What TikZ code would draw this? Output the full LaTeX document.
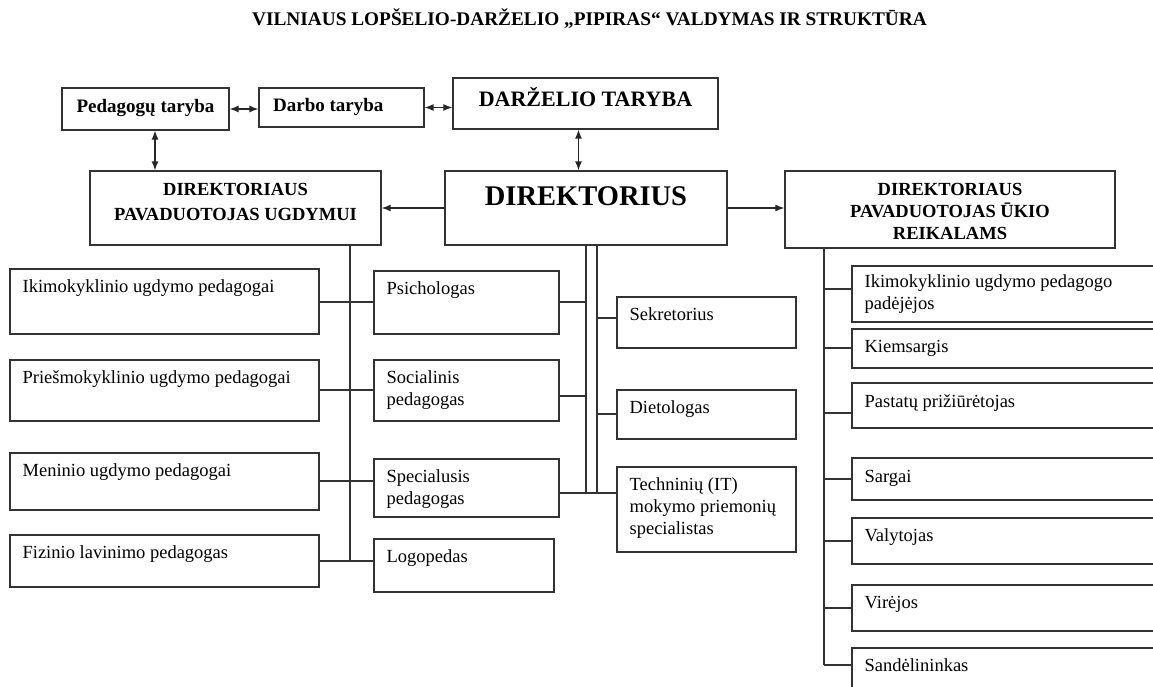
\documentclass[tikz,border=0pt]{standalone}
\usepackage{fontspec}
\setmainfont{Liberation Serif}
\usetikzlibrary{arrows.meta,calc}
\tikzset{
  boxs/.style={draw=black!80, line width=1.2pt, rectangle, inner sep=0pt},
  txt/.style={inner sep=0pt, anchor=base west, font=\fontsize{18.5}{22}\selectfont},
  btxt/.style={inner sep=0pt, anchor=base},
  link/.style={draw=black!80, line width=1.3pt},
  arr/.style={draw=black!85, line width=1.4pt, -{Latex[length=9pt,width=7pt]}},
  darr/.style={draw=black!85, line width=1.4pt, {Latex[length=9pt,width=7pt]}-{Latex[length=9pt,width=7pt]}},
}
\newcommand\mybox[5]{%
  \node[boxs, minimum width={#4-#2}, minimum height={#5-#3}] (#1) at ({(#2+#4)/2},{(#3+#5)/2}) {};}
\newcommand\mytext[3]{\node[txt] (#1-t) at ([shift={(13,#2)}]#1.north west)
  {\begin{tabular}[t]{@{}l@{}}#3\end{tabular}};}
\newcommand\ctext[1]{\begin{tabular}[t]{@{}c@{}}#1\end{tabular}}
\begin{document}
\begin{tikzpicture}[x=1pt,y=-1pt]
\useasboundingbox (0,0) rectangle (1153,687);
\fill[white] (0,0) rectangle (1153,687);
\clip (0,0) rectangle (1153,687);

\node[btxt, font=\bfseries\fontsize{19.3}{22}\selectfont] (title) at (589.5,26)
  {VILNIAUS LOPŠELIO-DARŽELIO „PIPIRAS“ VALDYMAS IR STRUKTŪRA};

% top boxes
\mybox{ped}{62}{88}{229}{130}
\node[btxt, font=\bfseries\fontsize{19}{22}\selectfont] (ped-t) at (145.5,113) {Pedagogų taryba};
\mybox{darbo}{259}{88}{424}{127}
\node[inner sep=0pt, anchor=base west, font=\bfseries\fontsize{19}{22}\selectfont] (darbo-t) at (273,112) {Darbo taryba};
\mybox{dtar}{453}{78}{718}{129}
\node[btxt, font=\bfseries\fontsize{22}{26}\selectfont] (dtar-t) at (585.5,107) {DARŽELIO TARYBA};

\mybox{pavugd}{90}{171}{381}{245}
\node[btxt, font=\bfseries\fontsize{18.5}{24.7}\selectfont] (pavugd-t) at (235.5,196) {\ctext{DIREKTORIAUS\\PAVADUOTOJAS UGDYMUI}};
\mybox{dir}{445}{171}{727}{245}
\node[btxt, font=\bfseries\fontsize{28.5}{32}\selectfont] (dir-t) at (586,205) {DIREKTORIUS};
\mybox{pavuk}{785}{171}{1115}{248}
\node[btxt, font=\bfseries\fontsize{18.5}{21.8}\selectfont] (pavuk-t) at (950,196) {\ctext{DIREKTORIAUS\\PAVADUOTOJAS ŪKIO\\REIKALAMS}};

% left column
\mybox{ikim}{10}{269}{319}{334}   \mytext{ikim}{24}{Ikimokyklinio ugdymo pedagogai}
\mybox{pries}{10}{360}{319}{421}  \mytext{pries}{24}{Priešmokyklinio ugdymo pedagogai}
\mybox{men}{10}{453}{319}{510}    \mytext{men}{24}{Meninio ugdymo pedagogai}
\mybox{fiz}{10}{535}{319}{587}    \mytext{fiz}{24}{Fizinio lavinimo pedagogas}

% middle column
\mybox{psi}{374}{271}{559}{334}   \mytext{psi}{24}{Psichologas}
\mybox{soc}{374}{360}{559}{421}   \mytext{soc}{24}{Socialinis\\pedagogas}
\mybox{spec}{374}{459}{559}{517}  \mytext{spec}{24}{Specialusis\\pedagogas}
\mybox{logo}{374}{539}{554}{592}  \mytext{logo}{24}{Logopedas}

\mybox{sek}{617}{297}{796}{348}   \mytext{sek}{24}{Sekretorius}
\mybox{diet}{617}{390}{796}{439}  \mytext{diet}{24}{Dietologas}
\mybox{tech}{617}{467}{796}{552}  \mytext{tech}{24}{Techninių (IT)\\mokymo priemonių\\specialistas}

% right column
\mybox{r1}{852}{266}{1170}{322}   \mytext{r1}{22}{Ikimokyklinio ugdymo pedagogo\\padėjėjos}
\mybox{r2}{852}{329}{1170}{368}   \mytext{r2}{24}{Kiemsargis}
\mybox{r3}{852}{383}{1170}{428}   \mytext{r3}{25}{Pastatų prižiūrėtojas}
\mybox{r4}{852}{458}{1170}{500}   \mytext{r4}{25}{Sargai}
\mybox{r5}{852}{518}{1170}{564}   \mytext{r5}{24}{Valytojas}
\mybox{r6}{852}{585}{1170}{631}   \mytext{r6}{24}{Virėjos}
\mybox{r7}{852}{648}{1170}{700}   \mytext{r7}{24}{Sandėlininkas}

% arrows at the top
\draw[darr] (ped.east) -- (ped.east -| darbo.west);
\draw[darr] (darbo.east) -- (darbo.east -| dtar.west);
\coordinate (pa) at ([shift={(9.5,0)}]ped.south);
\draw[darr] (pa) -- (pa |- pavugd.north);
\coordinate (da) at ([shift={(-7,0)}]dtar.south);
\draw[darr] (da) -- (da |- dir.north);
\draw[arr] (dir.west) -- (dir.west -| pavugd.east);
\draw[arr] (dir.east) -- (dir.east -| pavuk.west);

% left tree
\coordinate (lt) at ([shift={(114.5,0)}]pavugd.south);
\coordinate (l1) at ([shift={(0,0.5)}]ikim.east);
\coordinate (l2) at ([shift={(0,-0.5)}]pries.east);
\coordinate (l3) at ([shift={(0,-0.5)}]men.east);
\draw[link] (lt) -- (lt |- fiz.east);
\draw[link] (l1) -- (l1 -| psi.west);
\draw[link] (l2) -- (l2 -| soc.west);
\draw[link] (l3) -- (l3 -| spec.west);
\draw[link] (fiz.east) -- (fiz.east -| logo.west);

% middle tree
\coordinate (v1) at (dir.south);
\coordinate (v2) at ([shift={(11,0)}]dir.south);
\coordinate (spr) at ([shift={(0,5)}]spec.east);
\draw[link] (v1) -- (v1 |- spr);
\draw[link] (v2) -- (v2 |- spr);
\coordinate (psr) at ([shift={(0,-0.5)}]psi.east);
\draw[link] (psr) -- (psr -| v1);
\coordinate (sor) at ([shift={(0,5.5)}]soc.east);
\draw[link] (sor) -- (sor -| v1);
\draw[link] (spr) -- (spr -| tech.west);
\coordinate (sel) at ([shift={(0,-4.5)}]sek.west);
\draw[link] (sel) -- (sel -| v2);
\coordinate (dil) at ([shift={(0,-0.5)}]diet.west);
\draw[link] (dil) -- (dil -| v2);

% right tree
\coordinate (rt) at ([shift={(-126,0)}]pavuk.south);
\coordinate (r1c) at ([shift={(0,-5)}]r1.west);
\coordinate (r2c) at ([shift={(0,-0.5)}]r2.west);
\coordinate (r3c) at ([shift={(0,7.5)}]r3.west);
\coordinate (r7c) at ([shift={(0,-9)}]r7.west);
\draw[link] (rt) -- (rt |- r7c);
\draw[link] (r1c) -- (r1c -| rt);
\draw[link] (r2c) -- (r2c -| rt);
\draw[link] (r3c) -- (r3c -| rt);
\draw[link] (r4.west) -- (r4.west -| rt);
\draw[link] (r5.west) -- (r5.west -| rt);
\draw[link] (r6.west) -- (r6.west -| rt);
\draw[link] (r7c) -- (r7c -| rt);
\end{tikzpicture}
\end{document}
